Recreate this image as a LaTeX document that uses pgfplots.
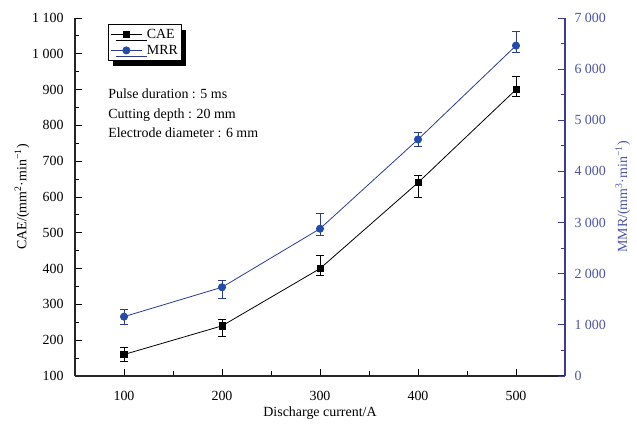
\documentclass[border=0pt]{standalone}
\usepackage{pgfplots}
\pgfplotsset{compat=1.18}
\usepackage{fontspec}
\setmainfont{Liberation Serif}
\usetikzlibrary{shadows}
\definecolor{mrr}{RGB}{45,60,145}
\definecolor{mrrmark}{RGB}{35,75,170}
\definecolor{raxis}{RGB}{60,60,150}
\definecolor{rtext}{RGB}{75,85,165}
\begin{document}
\begin{tikzpicture}
\pgfplotsset{
  base/.style={width=490bp,height=358bp,scale only axis, xmin=50,xmax=550,
   font=\fontsize{14}{16}\selectfont,
   /pgf/number format/assume math mode=true,
   /pgf/number format/1000 sep={\ },
   tick align=inside, major tick length=7bp, minor tick length=4.5bp,
   every tick/.style={line width=0.8bp},
  },
}
\begin{axis}[base,
  axis x line*=bottom, axis y line*=left,
  ymin=100,ymax=1100, ytick={100,200,...,1100}, minor y tick num=1,
  xtick={100,200,...,500}, minor x tick num=1,
  axis line style={line width=1.2bp, -, black!85},
  xticklabel style={yshift=-12bp},
  yticklabel style={xshift=-8bp},
  xlabel={Discharge current/A},
  ylabel={CAE/(mm\textsuperscript{2}·min\textsuperscript{−1})},
  xlabel style={at={(axis description cs:0.5,-0.103)},anchor=center},
  ylabel style={at={(axis description cs:-0.108,0.5)},anchor=center},
]
\addplot[black, line width=0.8bp, mark=square*, mark size=3.1bp, mark options={solid},
  error bars/.cd, y dir=both, y explicit,
  error bar style={line width=0.8bp, black},
  error mark options={rotate=90, mark size=4bp, line width=0.8bp, black}]
  coordinates {
  (100,160) += (0,20) -= (0,20)
  (200,240) += (0,18) -= (0,30)
  (300,400) += (0,38) -= (0,18)
  (400,640) += (0,20) -= (0,40)
  (500,900) += (0,38) -= (0,20)
  };
\node[anchor=north west, align=left, inner sep=0pt, font=\fontsize{14}{19.5}\selectfont]
  at (axis description cs:0.0675,0.802)
  {Pulse duration : 5 ms\\Cutting depth : 20 mm\\Electrode diameter : 6 mm};
\end{axis}
\begin{axis}[base, hide x axis, axis y line*=right,
  ymin=0,ymax=7000, ytick={0,1000,...,7000}, minor y tick num=1,
  axis line style={raxis,line width=1.2bp,-},
  y tick style={raxis},
  yticklabel style={rtext, xshift=6bp},
  ylabel={MMR/(mm\textsuperscript{3}·min\textsuperscript{−1})},
  ylabel style={rtext, at={(axis description cs:1.118,0.5)}, anchor=center},
  legend style={at={(axis description cs:0.0675,0.983)}, anchor=north west,
    draw=black, line width=0.6bp, inner xsep=2bp, inner ysep=3bp, row sep=2.5bp,
    font=\fontsize{14}{16}\selectfont,
    nodes={font=\fontsize{14}{16}\selectfont, inner sep=1.5bp},
    /tikz/every odd column/.append style={column sep=3bp},
    /tikz/every even column/.append style={column sep=3bp},
    drop shadow={shadow xshift=5bp, shadow yshift=-6bp, fill=black, opacity=1},
    fill=white},
  legend cell align=left,
  legend image code/.code={\draw[mark repeat=2,mark phase=2,#1] plot coordinates {(0cm,0cm) (0.55cm,0cm) (1.1cm,0cm)};},
]
\addlegendimage{black, line width=0.8bp, mark=square*, mark size=2.8bp}
\addlegendentry{CAE}
\addplot[mrr, line width=0.8bp, mark=*, mark size=3.6bp, mark options={solid, fill=mrrmark, draw=mrrmark},
  error bars/.cd, y dir=both, y explicit,
  error bar style={line width=0.8bp, mrr},
  error mark options={rotate=90, mark size=4bp, line width=0.8bp, mrr}]
  coordinates {
  (100,1160) += (0,150) -= (0,150)
  (200,1735) += (0,130) -= (0,210)
  (300,2880) += (0,290) -= (0,140)
  (400,4625) += (0,145) -= (0,145)
  (500,6460) += (0,270) -= (0,140)
  };
\addlegendentry{MRR}
\end{axis}
\pgfresetboundingbox
\path[use as bounding box] ([xshift=-75bp,yshift=-48bp]current axis.south west) rectangle ([xshift=72bp,yshift=18bp]current axis.north east);
\end{tikzpicture}
\end{document}
